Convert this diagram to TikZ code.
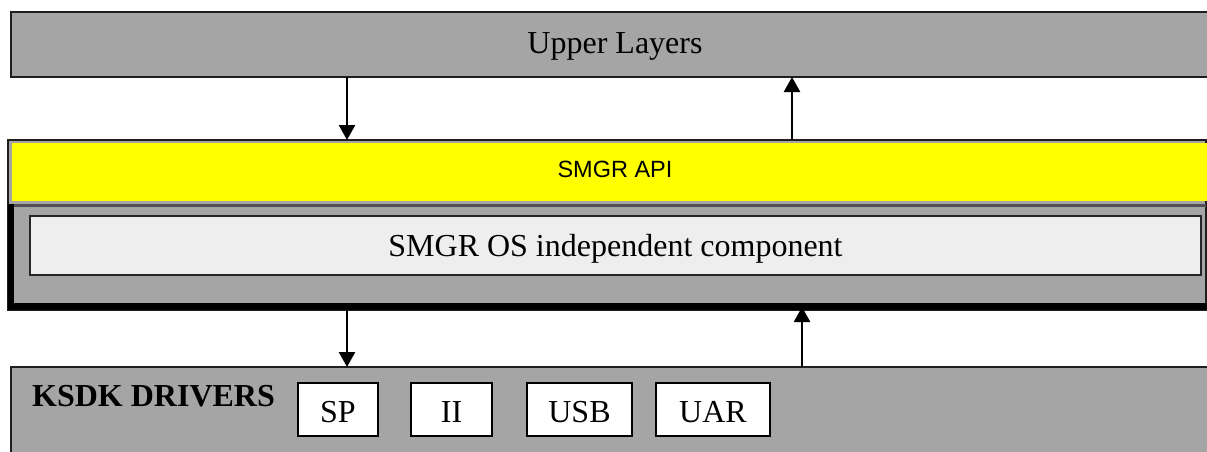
\documentclass[tikz,border=0pt]{standalone}
\usepackage{fontspec}
\setmainfont{Liberation Serif}
\newfontfamily\arialf{Liberation Sans}
\usetikzlibrary{arrows.meta}
\definecolor{boxgray}{RGB}{165,165,165}
\definecolor{lightbox}{RGB}{238,238,238}
\definecolor{apiyellow}{RGB}{255,255,0}
\definecolor{edgegray}{RGB}{30,30,30}
\definecolor{sepgray}{RGB}{80,80,80}
\tikzset{
  layer/.style={rectangle, inner sep=0pt, outer sep=0pt, fill=boxgray, draw=edgegray, line width=1.5pt},
  drvbox/.style={rectangle, inner sep=0pt, outer sep=0pt, fill=white, draw=black, line width=1.5pt, minimum height=53pt, text height=26pt, text depth=0pt, font=\fontsize{32}{36}\selectfont},
  arr/.style={line width=2.5pt, -{Triangle[width=16pt,length=15pt]}},
  bigtext/.style={font=\fontsize{32}{36}\selectfont}
}
\begin{document}
\begin{tikzpicture}[x=1pt,y=-1pt]
\useasboundingbox (0,0) rectangle (1207,451);
\clip (0,0) rectangle (1207,451);
% upper layers
\node[layer, bigtext, minimum width=1208pt, minimum height=65pt, text depth=3pt] (upper) at (615,44.5) {Upper Layers};
% middle block
\node[layer, minimum width=1198pt, minimum height=170pt] (mid) at (607,225) {};
\node[rectangle, inner sep=0pt, outer sep=0pt, fill=apiyellow, minimum width=1206pt, minimum height=58pt, text depth=5pt, font=\arialf\fontsize{23.5}{28}\selectfont] (api) at (615,172) {SMGR API};
\draw[sepgray, line width=3pt] (12,205.5) -- (1206,205.5);
\draw[black, line width=6.5pt] (11,204) -- (11,306.5) -- (1210,306.5);
\node[rectangle, inner sep=0pt, outer sep=0pt, fill=lightbox, draw=black!85, line width=1.5pt, minimum width=1171pt, minimum height=59pt, text depth=0pt, bigtext] (os) at (615.5,245.5) {SMGR OS independent component};
% bottom drivers block
\node[layer, minimum width=1208pt, minimum height=100pt] (drv) at (615,417) {};
\node[anchor=base west, inner sep=0pt, font=\bfseries\fontsize{32}{36}\selectfont] (ksdk) at (32,406) {KSDK DRIVERS};
\node[drvbox, minimum width=80pt] (sp) at (338,409.5) {SP};
\node[drvbox, minimum width=81pt] (ii) at (451.5,409.5) {II};
\node[drvbox, minimum width=105pt] (usb) at (579.5,409.5) {USB};
\node[drvbox, minimum width=114pt] (uar) at (713,409.5) {UAR};
% arrows
\coordinate (a1) at (347,0);
\coordinate (a2) at (792,0);
\coordinate (a3) at (802,0);
\draw[arr] (upper.south -| a1) -- (mid.north -| a1);
\draw[arr] (mid.north -| a2) -- (upper.south -| a2);
\draw[arr] (mid.south -| a1) -- (drv.north -| a1);
\draw[arr] (drv.north -| a3) -- ([yshift=3pt]mid.south -| a3);
\end{tikzpicture}
\end{document}
